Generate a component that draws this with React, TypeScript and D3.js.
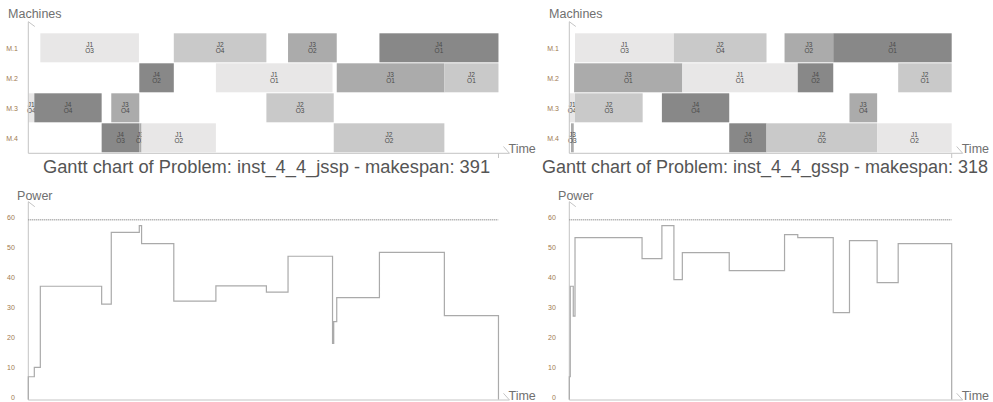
import React, { useRef, useEffect } from 'react';
import * as d3 from 'd3';

const machines = ['M.1', 'M.2', 'M.3', 'M.4'];
const jobs = ['J1', 'J2', 'J3', 'J4'];
const jobColors = ['#e8e7e7', '#c9c9c9', '#ababab', '#888888'];

// [machine, job, operation, start, end]
const jsspTasks: [string, string, string, number, number][] = [
  ['M.1', 'J1', 'O3', 10, 92],
  ['M.1', 'J2', 'O4', 121, 198],
  ['M.1', 'J3', 'O2', 216, 256.5],
  ['M.1', 'J4', 'O1', 292, 391],
  ['M.2', 'J4', 'O2', 92.3, 121],
  ['M.2', 'J1', 'O1', 156, 253],
  ['M.2', 'J3', 'O1', 256.5, 346],
  ['M.2', 'J2', 'O1', 346, 391],
  ['M.3', 'J1', 'O4', 0, 5],
  ['M.3', 'J4', 'O4', 5, 61],
  ['M.3', 'J3', 'O4', 69, 92.3],
  ['M.3', 'J2', 'O3', 198, 254],
  ['M.4', 'J4', 'O3', 61, 92.3],
  ['M.4', 'J3', 'O3', 92.3, 94.2],
  ['M.4', 'J1', 'O2', 94.2, 156],
  ['M.4', 'J2', 'O2', 254, 346],
];

const gsspTasks: [string, string, string, number, number][] = [
  ['M.1', 'J1', 'O3', 4.75, 87],
  ['M.1', 'J2', 'O4', 87, 164],
  ['M.1', 'J3', 'O2', 179, 219.5],
  ['M.1', 'J4', 'O1', 219.5, 318],
  ['M.2', 'J3', 'O1', 4, 94],
  ['M.2', 'J1', 'O1', 94, 190],
  ['M.2', 'J4', 'O2', 190, 219.5],
  ['M.2', 'J2', 'O1', 273.5, 318],
  ['M.3', 'J1', 'O4', 0, 4.75],
  ['M.3', 'J2', 'O3', 4.75, 61],
  ['M.3', 'J4', 'O4', 77, 133],
  ['M.3', 'J3', 'O4', 233, 256],
  ['M.4', 'J3', 'O3', 1.4, 3.7],
  ['M.4', 'J4', 'O3', 133, 164],
  ['M.4', 'J2', 'O2', 164, 256],
  ['M.4', 'J1', 'O2', 256, 318],
];

const jsspPowerTimes = [0, 5, 10, 61, 69, 92.3, 94.2, 121, 156, 198, 216, 253, 254, 256.5, 292, 346];
const jsspPowerValues = [7.6, 10.7, 37.8, 31.8, 55.8, 58, 52, 32.8, 37.9, 35.8, 47.8, 18.7, 26, 34, 49.1, 28];

const gsspPowerTimes = [0, 0.8, 3.3, 4.75, 60.5, 77, 87, 94, 133, 179, 190, 219.5, 233, 256, 273.5];
const gsspPowerValues = [7.6, 37.8, 27.8, 54, 47, 58, 40, 49, 43, 55, 54, 29, 53, 39, 52];

const powerTicks = [0, 10, 20, 30, 40, 50, 60];
const powerLimit = 60;

const pxPerUnit = 1.2025;
const font = '"Liberation Sans", Arial, sans-serif';
const axisColor = '#c4c4c4';
const labelColor = '#707070';
const tickColor = '#a07a50';

function drawPanel(root, cfg) {
  const { x0, makespan, tasks, times, values, title, titleX, titleSize } = cfg;

  const x = d3.scaleLinear().domain([0, makespan]).range([x0, x0 + makespan * pxPerUnit]);
  const xEnd = x(makespan) + 11;
  const yBand = d3.scaleBand().domain(machines).range([33.3, 153.3]);
  const color = d3.scaleOrdinal<string, string>().domain(jobs).range(jobColors);

  const g = root.append('g');

  // Gantt bars
  const bars = g.selectAll('.task')
    .data(tasks)
    .enter()
    .append('g')
    .attr('class', 'task');

  bars.append('rect')
    .attr('x', d => x(d[3]))
    .attr('y', d => yBand(d[0]))
    .attr('width', d => x(d[4]) - x(d[3]))
    .attr('height', yBand.bandwidth() - 1)
    .attr('fill', d => color(d[1]));

  const labels = bars.append('text')
    .attr('text-anchor', 'middle')
    .style('font-size', '6.5px')
    .style('font-family', font)
    .attr('fill', '#4a4a4a');
  labels.append('tspan')
    .attr('x', d => (x(d[3]) + x(d[4])) / 2)
    .attr('y', d => yBand(d[0]) + yBand.bandwidth() / 2 - 1.5)
    .text(d => d[1]);
  labels.append('tspan')
    .attr('x', d => (x(d[3]) + x(d[4])) / 2)
    .attr('y', d => yBand(d[0]) + yBand.bandwidth() / 2 + 4.5)
    .text(d => d[2]);

  // Gantt axes
  const ax = g.append('g').attr('stroke', axisColor).attr('stroke-width', 1);
  ax.append('line').attr('x1', x0).attr('y1', 21.7).attr('x2', x0).attr('y2', 153.3);
  ax.append('line').attr('x1', x0).attr('y1', 21.7).attr('x2', x0 + 6.5).attr('y2', 26.5);
  ax.append('line').attr('x1', x0).attr('y1', 153.3).attr('x2', xEnd).attr('y2', 153.3);
  ax.append('line').attr('x1', xEnd - 6).attr('y1', 146.5).attr('x2', xEnd).attr('y2', 153.3);
  ax.append('line').attr('x1', x(makespan)).attr('y1', 153.3).attr('x2', x(makespan)).attr('y2', 158);

  g.selectAll('.mlabel')
    .data(machines)
    .enter()
    .append('text')
    .attr('class', 'mlabel')
    .attr('x', x0 - 10.5)
    .attr('y', d => yBand(d) + yBand.bandwidth() / 2)
    .attr('dy', '0.35em')
    .attr('text-anchor', 'end')
    .style('font-size', '7px')
    .style('font-family', font)
    .attr('fill', tickColor)
    .text(d => d);

  g.append('text')
    .attr('x', x0 + 6.5)
    .attr('y', 18)
    .attr('text-anchor', 'middle')
    .style('font-size', '12.5px')
    .style('font-family', font)
    .attr('fill', labelColor)
    .text('Machines');

  g.append('text')
    .attr('x', xEnd - 1)
    .attr('y', 152.5)
    .style('font-size', '12.5px')
    .style('font-family', font)
    .attr('fill', labelColor)
    .text('Time');

  g.append('text')
    .attr('x', titleX)
    .attr('y', 172.5)
    .attr('text-anchor', 'middle')
    .style('font-size', titleSize + 'px')
    .style('font-family', font)
    .attr('fill', '#555')
    .text(title);

  // Power chart
  const y = d3.scaleLinear().domain([0, 60]).range([399.5, 219.7]);

  const pa = g.append('g').attr('stroke', axisColor).attr('stroke-width', 1);
  pa.append('line').attr('x1', x0).attr('y1', 201.7).attr('x2', x0).attr('y2', 400);
  pa.append('line').attr('x1', x0).attr('y1', 201.7).attr('x2', x0 + 6.5).attr('y2', 206.7);
  pa.append('line').attr('x1', x0).attr('y1', 400).attr('x2', xEnd).attr('y2', 400);
  pa.append('line').attr('x1', xEnd - 6).attr('y1', 393.3).attr('x2', xEnd).attr('y2', 400);

  g.selectAll('.ptick')
    .data(powerTicks)
    .enter()
    .append('text')
    .attr('class', 'ptick')
    .attr('x', x0 - 13.5)
    .attr('y', d => y(d) - 2)
    .attr('dy', '0.35em')
    .attr('text-anchor', 'end')
    .style('font-size', '7px')
    .style('font-family', font)
    .attr('fill', tickColor)
    .text(d => d);

  g.append('line')
    .attr('x1', x0)
    .attr('x2', x(makespan))
    .attr('y1', y(powerLimit))
    .attr('y2', y(powerLimit))
    .attr('stroke', '#999')
    .attr('stroke-width', 1.6)
    .attr('stroke-dasharray', '1,1');

  const pts: [number, number][] = [[0, 0]];
  times.forEach((t, i) => pts.push([t, values[i]]));
  pts.push([makespan, values[values.length - 1]]);
  pts.push([makespan, 0]);

  const line = d3.line<[number, number]>()
    .x(d => x(d[0]))
    .y(d => y(d[1]))
    .curve(d3.curveStepAfter);

  g.append('path')
    .attr('d', line(pts))
    .attr('fill', 'none')
    .attr('stroke', '#aaa')
    .attr('stroke-width', 1.2);

  g.append('text')
    .attr('x', x0 + 6.5)
    .attr('y', 199.5)
    .attr('text-anchor', 'middle')
    .style('font-size', '12.5px')
    .style('font-family', font)
    .attr('fill', labelColor)
    .text('Power');

  g.append('text')
    .attr('x', xEnd - 1)
    .attr('y', 400)
    .style('font-size', '12.5px')
    .style('font-family', font)
    .attr('fill', labelColor)
    .text('Time');
}

function App() {
  const svgRef = useRef(null);

  useEffect(() => {
    const svg = d3.select(svgRef.current);
    svg.selectAll('*').remove();

    drawPanel(svg, {
      x0: 28.3,
      makespan: 391,
      tasks: jsspTasks,
      times: jsspPowerTimes,
      values: jsspPowerValues,
      title: 'Gantt chart of Problem: inst_4_4_jssp - makespan: 391',
      titleX: 266.5,
      titleSize: 18.3,
    });

    drawPanel(svg, {
      x0: 569.3,
      makespan: 318,
      tasks: gsspTasks,
      times: gsspPowerTimes,
      values: gsspPowerValues,
      title: 'Gantt chart of Problem: inst_4_4_gssp - makespan: 318',
      titleX: 765,
      titleSize: 18,
    });
  }, []);

  return (
    <svg
      ref={svgRef}
      width={993}
      height={402}
      style={{ position: 'absolute', left: 0, top: 0, background: '#fff' }}
    />
  );
}

export default App;
